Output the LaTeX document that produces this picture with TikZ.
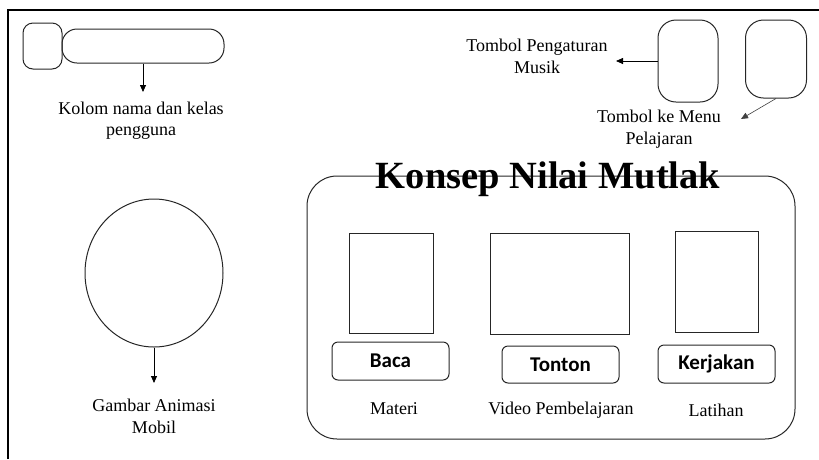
\documentclass[tikz,border=0pt]{standalone}
\usepackage{fontspec}
\setmainfont{Liberation Serif}
\newfontfamily\btnfont{Carlito}
\usetikzlibrary{arrows.meta,shapes.geometric}
\begin{document}
\begin{tikzpicture}[x=1pt,y=-1pt,
  frameline/.style={line width=2pt},
  box/.style={draw=black!85, line width=1pt, inner sep=0pt},
  lbl/.style={font=\fontsize{18}{21.5}\selectfont, align=center, inner sep=0pt, anchor=base},
  btn/.style={box, rounded corners=6pt, minimum width=117pt, font=\btnfont\bfseries\fontsize{21}{24}\selectfont},
  pic/.style={box, rectangle},
  arr/.style={-{Triangle[length=7pt,width=6pt]}, line width=0.8pt}]
\useasboundingbox (0,0) rectangle (819,459);
% outer frame
\draw[frameline] (8,459) -- (8,10) -- (819,10);
% user name area
\node[box, rounded corners=10pt, minimum width=39pt, minimum height=46pt] (avatar) at (42.5,46) {};
\node[box, rounded corners=15pt, minimum width=162pt, minimum height=34pt] (namebox) at (143,46) {};
\coordinate (kolomtip) at (143,92);
\draw[arr] (namebox) -- (kolomtip);
\node[lbl] (kolom) at (141,135.5) {Kolom nama dan kelas\\pengguna};
% top right buttons
\node[box, rounded corners=18pt, minimum width=60pt, minimum height=82pt] (musicbtn) at (688,61) {};
\node[box, rounded corners=18pt, minimum width=61pt, minimum height=78pt] (menubtn) at (776,59) {};
\coordinate (musictip) at (616,61);
\draw[arr] (musicbtn) -- (musictip);
\node[lbl] (musik) at (537,73) {Tombol Pengaturan\\Musik};
\coordinate (menutip) at (741,119);
\draw[arr, line width=0.6pt, draw=black!75] (menubtn.south) -- (menutip);
\node[lbl] (menu) at (659,144) {Tombol ke Menu\\Pelajaran};
% car animation
\node[box, ellipse, minimum width=138pt, minimum height=148pt] (car) at (154,273) {};
\coordinate (cartip) at (154,383);
\draw[arr] (car) -- (cartip);
\node[lbl] (mobil) at (154,433) {Gambar Animasi\\Mobil};
% main panel
\node[box, rounded corners=30pt, minimum width=488pt, minimum height=263pt] (panel) at (551,307.5) {};
\node[font=\fontsize{38.5}{40}\selectfont\bfseries, anchor=base, inner sep=0pt] (title) at (548,188) {Konsep Nilai Mutlak};
\node[pic, minimum width=84pt, minimum height=100pt] (r1) at (391,283) {};
\node[pic, minimum width=139pt, minimum height=101pt] (r2) at (559.5,283.5) {};
\node[pic, minimum width=83pt, minimum height=101pt] (r3) at (716.5,281.5) {};
\node[btn, minimum height=38pt] (baca) at (390.5,361) {Baca};
\node[btn, minimum height=37pt] (tonton) at (560.5,364.5) {Tonton};
\node[btn, minimum height=38pt] (kerjakan) at (716.5,364) {Kerjakan};
\node[lbl] (materi) at (394,414) {Materi};
\node[lbl] (video) at (561,414) {Video Pembelajaran};
\node[lbl] (latihan) at (716,416) {Latihan};
\end{tikzpicture}
\end{document}
